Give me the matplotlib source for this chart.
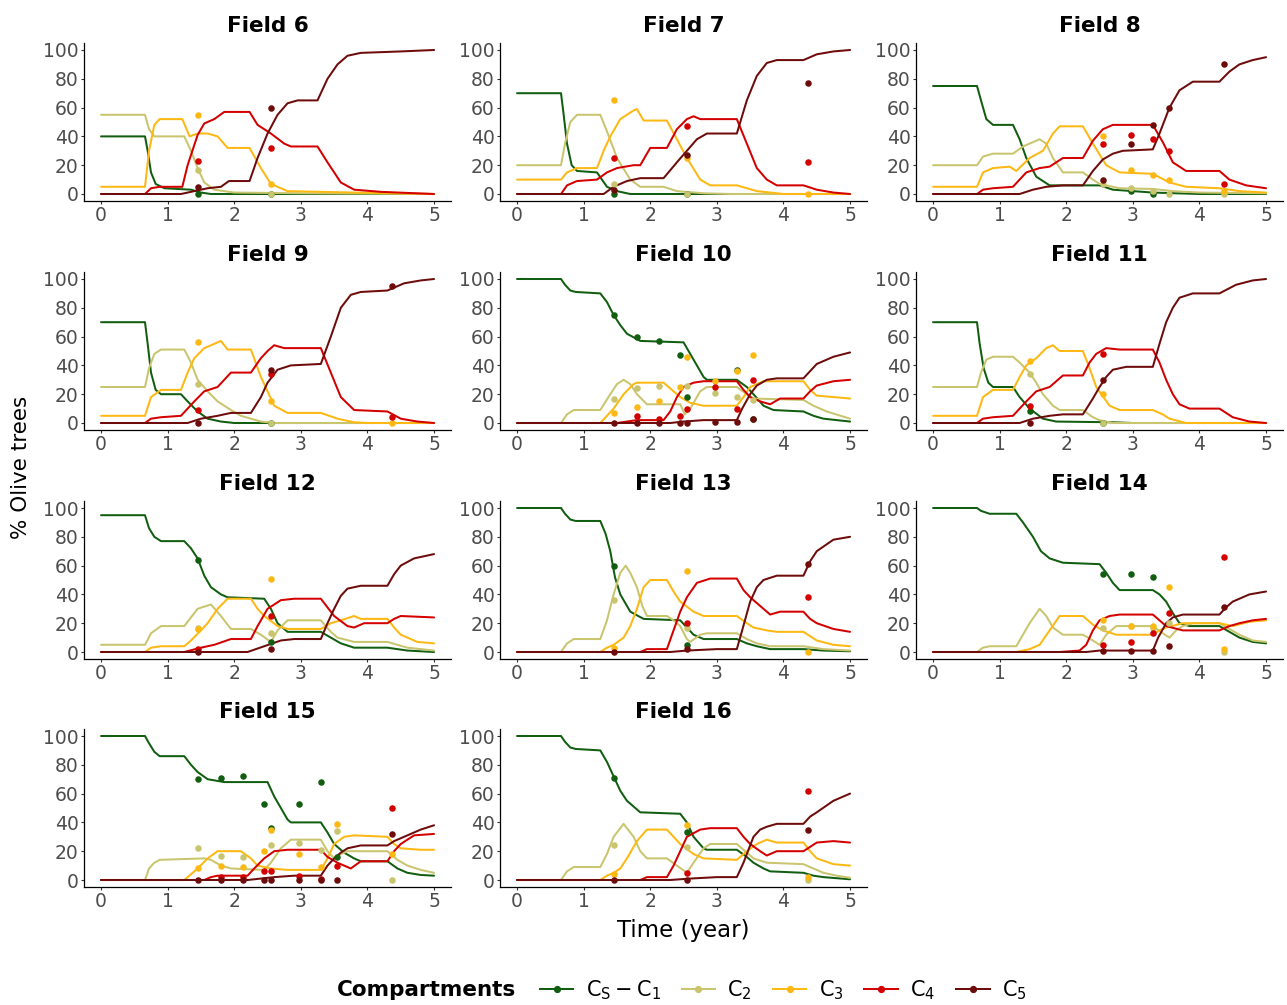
import matplotlib
matplotlib.use("Agg")
import matplotlib.pyplot as plt
from matplotlib.lines import Line2D

plt.rcParams['font.family'] = ['DejaVu Sans']

# ---------------- data ----------------
COMPARTMENTS = ['C1', 'C2', 'C3', 'C4', 'C5']
LEGEND_LABELS = [r'$\mathregular{C_S - C_1}$', r'$\mathregular{C_2}$', r'$\mathregular{C_3}$',
                 r'$\mathregular{C_4}$', r'$\mathregular{C_5}$']
COLORS = ['#115E11', '#C9C56E', '#FDB813', '#D40000', '#6E0B0B']
FIELDS = [6, 7, 8, 9, 10, 11, 12, 13, 14, 15, 16]

# model curves: (time, % trees) knots
f6_c1 = [(0,40),(0.66,40),(0.7,30),(0.75,15),(0.82,7),(0.95,4),(1.35,3),(1.5,1),(1.65,0),(5,0)]
f6_c2 = [(0,55),(0.66,55),(0.72,45),(0.8,40),(1.25,40),(1.35,30),(1.45,18),(1.55,8),(1.7,3),(2.0,1),(3.0,0.5),(5,0)]
f6_c3 = [(0,5),(0.66,5),(0.72,30),(0.8,48),(0.88,52),(1.22,52),(1.33,40),(1.45,42),(1.6,42),(1.75,40),(1.9,32),(2.23,32),(2.4,18),(2.55,7),(2.8,2),(3.8,1),(5,0)]
f6_c4 = [(0,0),(0.66,0),(0.75,4),(0.88,5),(1.22,5),(1.3,20),(1.45,41),(1.55,49),(1.7,52),(1.85,57),(2.23,57),(2.35,48),(2.55,42),(2.75,35),(2.85,33),(3.25,33),(3.4,22),(3.6,8),(3.8,3),(4.2,1.5),(5,0)]
f6_c5 = [(0,0),(1.2,0),(1.4,2),(1.6,4),(1.8,5),(1.92,9),(2.23,9),(2.35,25),(2.5,42),(2.65,55),(2.8,63),(2.95,65),(3.25,65),(3.4,80),(3.55,90),(3.7,96),(3.9,98),(4.5,99),(5,100)]
f6_t = [1.45, 2.55]
f6_p = [[0, 0], [17, 0], [55, 7], [23, 32], [5, 60]]

f7_c1 = [(0,70),(0.66,70),(0.7,55),(0.75,35),(0.82,20),(0.9,16),(1.2,15),(1.35,5),(1.5,2),(1.7,0),(5,0)]
f7_c2 = [(0,20),(0.66,20),(0.72,35),(0.8,50),(0.9,55),(1.25,55),(1.38,40),(1.5,25),(1.7,10),(1.85,5),(2.2,5),(2.4,2),(2.8,0.5),(3.2,0),(5,0)]
f7_c3 = [(0,10),(0.66,10),(0.75,15),(0.9,18),(1.2,18),(1.3,30),(1.4,40),(1.55,52),(1.75,58),(1.8,59),(1.9,51),(2.25,51),(2.4,38),(2.55,25),(2.75,10),(2.9,6),(3.3,6),(3.6,2),(4.0,0),(5,0)]
f7_c4 = [(0,0),(0.66,0),(0.75,6),(0.9,9),(1.2,10),(1.35,15),(1.5,18),(1.75,20),(1.85,20),(2.0,32),(2.25,32),(2.4,45),(2.55,52),(2.65,54),(2.75,52),(3.3,52),(3.45,35),(3.6,18),(3.75,10),(3.9,6),(4.3,6),(4.5,3),(4.75,1),(5,0)]
f7_c5 = [(0,0),(1.3,0),(1.45,5),(1.65,9),(1.85,11),(2.2,11),(2.4,22),(2.55,30),(2.7,38),(2.85,42),(3.3,42),(3.45,65),(3.6,82),(3.75,91),(3.9,93),(4.3,93),(4.5,97),(4.75,99),(5,100)]
f7_t = [1.45, 2.55, 4.37]
f7_p = [[0, 0, None], [7, 0, None], [65, 25, 0], [25, 47, 22], [3, 27, 77]]

f8_c1 = [(0,75),(0.66,75),(0.72,65),(0.8,52),(0.9,48),(1.2,48),(1.3,38),(1.4,25),(1.55,12),(1.75,6),(2.5,6),(2.7,3),(3.0,2),(3.3,1),(4.0,0),(5,0)]
f8_c2 = [(0,20),(0.66,20),(0.75,26),(0.9,28),(1.2,28),(1.35,33),(1.5,36),(1.6,38),(1.7,35),(1.8,25),(1.95,15),(2.25,15),(2.4,10),(2.5,7),(2.8,4),(3.3,3.5),(3.6,2),(4.0,1),(5,0.5)]
f8_c3 = [(0,5),(0.66,5),(0.75,15),(0.9,18),(1.15,19),(1.25,16),(1.45,25),(1.65,30),(1.8,42),(1.9,47),(2.25,47),(2.4,35),(2.6,20),(2.8,15),(3.3,14),(3.55,8),(3.8,5),(4.3,4),(4.6,2),(5,1)]
f8_c4 = [(0,0),(0.66,0),(0.75,3),(0.9,4),(1.2,5),(1.4,15),(1.6,18),(1.75,19),(1.95,25),(2.25,25),(2.4,37),(2.55,45),(2.7,48),(3.3,48),(3.45,36),(3.6,22),(3.8,16),(4.3,16),(4.45,10),(4.7,6),(5,4)]
f8_c5 = [(0,0),(1.3,0),(1.5,3),(1.7,5),(1.95,6),(2.25,6),(2.4,16),(2.55,24),(2.7,28),(2.85,30),(3.3,31),(3.4,42),(3.55,60),(3.7,72),(3.9,78),(4.3,78),(4.45,85),(4.6,90),(4.8,93),(5,95)]
f8_t = [2.55, 2.97, 3.31, 3.55, 4.37]
f8_p = [[None, 2, 0, None, None], [7, 4, 2, 0, 0], [40, 17, 13, 10, 2], [35, 41, 38, 30, 7], [10, 35, 48, 60, 90]]

f9_c1 = [(0,70),(0.66,70),(0.7,55),(0.75,35),(0.82,23),(0.9,20),(1.2,20),(1.3,15),(1.45,8),(1.6,3),(1.8,1),(2.0,0),(5,0)]
f9_c2 = [(0,25),(0.66,25),(0.72,38),(0.8,48),(0.9,51),(1.25,51),(1.35,42),(1.45,30),(1.6,22),(1.75,15),(1.95,9),(2.1,5),(2.4,1),(2.6,0),(5,0)]
f9_c3 = [(0,5),(0.66,5),(0.75,18),(0.9,23),(1.2,23),(1.3,35),(1.4,45),(1.55,52),(1.75,56),(1.8,57),(1.9,51),(2.25,51),(2.4,32),(2.6,12),(2.8,7),(3.3,7),(3.55,3),(3.8,0.5),(4.0,0),(5,0)]
f9_c4 = [(0,0),(0.66,0),(0.75,3),(0.9,4),(1.2,5),(1.3,10),(1.4,15),(1.55,22),(1.75,25),(1.95,35),(2.25,35),(2.4,45),(2.5,50),(2.6,54),(2.75,52),(3.3,52),(3.45,35),(3.6,18),(3.8,9),(4.3,8),(4.5,3),(4.75,1),(5,0)]
f9_c5 = [(0,0),(1.3,0),(1.5,3),(1.75,5),(1.95,7),(2.25,7),(2.4,18),(2.5,28),(2.65,37),(2.85,40),(3.3,41),(3.45,60),(3.6,80),(3.75,89),(3.9,91),(4.3,92),(4.55,97),(4.8,99),(5,100)]
f9_t = [1.45, 2.55, 4.37]
f9_p = [[None, 0, None], [27, 0, None], [56, 15, 0], [9, 34, 4], [0, 37, 95]]

f10_c1 = [(0,100),(0.66,100),(0.72,96),(0.8,92),(0.88,91),(1.25,90),(1.35,84),(1.45,75),(1.55,68),(1.65,62),(1.85,57),(2.5,56),(2.6,48),(2.7,40),(2.8,32),(2.85,30),(3.3,30),(3.45,25),(3.55,20),(3.7,12),(3.85,9),(4.3,8),(4.45,5),(4.6,3),(5,1)]
f10_c2 = [(0,0),(0.66,0),(0.75,6),(0.85,9),(1.25,9),(1.4,20),(1.5,27),(1.6,30),(1.7,27),(1.8,20),(1.95,13),(2.45,13),(2.52,6),(2.6,10),(2.75,22),(2.85,25),(3.3,25),(3.45,20),(3.55,17),(4.3,16),(4.45,12),(4.65,8),(5,3)]
f10_c3 = [(0,0),(1.25,0),(1.35,5),(1.45,10),(1.6,20),(1.75,27),(1.8,28),(2.2,28),(2.35,22),(2.45,18),(2.6,14),(2.8,12),(3.3,12),(3.4,18),(3.5,25),(3.7,29),(4.3,29),(4.4,23),(4.5,19),(4.75,18),(5,17)]
f10_c4 = [(0,0),(1.5,0),(1.65,1),(1.8,2),(2.2,2),(2.3,8),(2.4,18),(2.5,25),(2.65,28),(2.8,29),(3.3,29),(3.4,23),(3.5,18),(3.65,15),(3.8,13),(3.95,17),(4.3,17),(4.4,22),(4.5,26),(4.75,29),(5,30)]
f10_c5 = [(0,0),(2.3,0),(2.5,1),(2.8,2),(3.3,2),(3.38,10),(3.5,20),(3.6,26),(3.75,30),(3.9,31),(4.3,31),(4.4,36),(4.5,41),(4.75,46),(5,49)]
f10_t = [1.45, 1.8, 2.13, 2.45, 2.55, 2.97, 3.31, 3.55]
f10_p = [[75, 60, 57, 47, 18, None, 37, 3],
         [17, 24, 26, None, 26, 21, 18, 16],
         [7, 11, 15, 25, 46, 29, 36, 47],
         [None, 5, 3, 5, 10, 25, 10, 30],
         [0, 0, 0, 0, 0, 1, 1, 3]]

f11_c1 = [(0,70),(0.66,70),(0.7,55),(0.76,38),(0.83,28),(0.9,25),(1.2,25),(1.3,18),(1.45,10),(1.65,3),(1.85,1),(2.7,0.5),(3.0,0),(5,0)]
f11_c2 = [(0,25),(0.66,25),(0.72,35),(0.8,44),(0.9,46),(1.2,46),(1.3,42),(1.45,35),(1.55,28),(1.65,20),(1.8,12),(1.9,9),(2.25,9),(2.4,4),(2.5,2),(2.7,0),(5,0)]
f11_c3 = [(0,5),(0.66,5),(0.75,18),(0.9,23),(1.2,23),(1.3,32),(1.4,40),(1.55,45),(1.7,52),(1.8,54),(1.9,50),(2.25,50),(2.35,38),(2.45,25),(2.65,12),(2.8,9),(3.3,9),(3.45,6),(3.55,3),(3.8,0),(5,0)]
f11_c4 = [(0,0),(0.66,0),(0.75,3),(0.9,4),(1.2,5),(1.3,10),(1.4,15),(1.55,22),(1.75,25),(1.95,33),(2.25,33),(2.35,42),(2.45,48),(2.6,52),(2.8,51),(3.3,51),(3.4,42),(3.5,30),(3.6,20),(3.7,13),(3.85,10),(4.3,10),(4.5,4),(4.75,1),(5,0)]
f11_c5 = [(0,0),(1.3,0),(1.5,3),(1.75,5),(1.95,6),(2.25,6),(2.4,17),(2.5,25),(2.6,32),(2.7,37),(2.9,39),(3.3,39),(3.4,55),(3.5,70),(3.6,80),(3.7,87),(3.9,90),(4.3,90),(4.55,96),(4.8,99),(5,100)]
f11_t = [1.45, 2.55]
f11_p = [[8, 0], [34, 0], [43, 20], [12, 48], [0, 30]]

f12_c1 = [(0,95),(0.66,95),(0.72,86),(0.8,80),(0.9,77),(1.25,77),(1.35,72),(1.45,65),(1.55,53),(1.65,45),(1.8,40),(1.9,38),(2.45,37),(2.55,30),(2.65,20),(2.8,14),(3.3,14),(3.45,10),(3.6,6),(3.8,3),(4.3,3),(4.6,1),(5,0)]
f12_c2 = [(0,5),(0.66,5),(0.75,13),(0.9,18),(1.25,18),(1.35,24),(1.45,30),(1.65,33),(1.8,25),(1.95,16),(2.25,16),(2.4,12),(2.55,7),(2.65,15),(2.8,22),(3.3,22),(3.45,14),(3.55,10),(3.8,7),(4.3,7),(4.6,3),(5,1)]
f12_c3 = [(0,0),(0.66,0),(0.75,3),(0.9,4),(1.25,4),(1.35,8),(1.5,15),(1.6,20),(1.75,30),(1.9,37),(2.25,37),(2.35,30),(2.45,25),(2.65,18),(2.8,16),(3.3,16),(3.45,20),(3.6,22),(3.8,25),(3.9,23),(4.3,23),(4.4,17),(4.5,12),(4.75,7),(5,6)]
f12_c4 = [(0,0),(1.25,0),(1.5,3),(1.7,5),(1.95,9),(2.25,9),(2.35,18),(2.5,30),(2.7,36),(2.9,37),(3.3,37),(3.4,31),(3.5,25),(3.7,18),(3.8,17),(3.95,20),(4.3,20),(4.4,23),(4.5,25),(5,24)]
f12_c5 = [(0,0),(2.2,0),(2.45,4),(2.7,8),(2.9,9),(3.3,9),(3.4,20),(3.5,30),(3.6,39),(3.7,44),(3.9,46),(4.3,46),(4.4,54),(4.5,60),(4.7,65),(5,68)]
f12_t = [1.45, 2.55]
f12_p = [[64, 7], [17, 13], [16, 51], [2, 25], [0, 2]]

f13_c1 = [(0,100),(0.66,100),(0.72,96),(0.8,92),(0.88,91),(1.25,91),(1.33,82),(1.4,70),(1.47,52),(1.55,40),(1.7,28),(1.9,23),(2.45,22),(2.55,17),(2.65,12),(2.8,9),(3.3,9),(3.45,6),(3.6,4),(3.8,2),(4.3,2),(4.6,1),(5,0.5)]
f13_c2 = [(0,0),(0.66,0),(0.75,6),(0.85,9),(1.25,9),(1.35,22),(1.45,40),(1.55,55),(1.63,60),(1.7,55),(1.8,45),(1.88,32),(1.95,25),(2.25,25),(2.35,22),(2.45,18),(2.55,9),(2.6,7),(2.75,12),(2.85,13),(3.3,13),(3.45,9),(3.6,6),(3.8,4),(4.3,4),(4.6,2),(5,1)]
f13_c3 = [(0,0),(1.25,0),(1.35,3),(1.45,5),(1.6,10),(1.7,18),(1.8,30),(1.9,45),(2.0,50),(2.25,50),(2.35,42),(2.45,35),(2.65,28),(2.8,25),(3.3,25),(3.45,20),(3.55,17),(3.75,15),(3.9,14),(4.3,14),(4.4,11),(4.5,8),(4.75,5),(5,4)]
f13_c4 = [(0,0),(1.85,0),(1.95,2),(2.25,2),(2.35,15),(2.45,28),(2.55,38),(2.7,48),(2.9,51),(3.3,51),(3.4,43),(3.5,38),(3.7,30),(3.8,26),(3.95,28),(4.3,28),(4.4,23),(4.5,20),(4.75,16),(5,14)]
f13_c5 = [(0,0),(2.3,0),(2.55,1),(3.0,2),(3.3,2),(3.38,15),(3.5,35),(3.6,45),(3.7,50),(3.9,53),(4.3,53),(4.4,63),(4.5,70),(4.75,78),(5,80)]
f13_t = [1.45, 2.55, 4.37]
f13_p = [[60, 5, None], [36, 17, None], [3, 56, 0], [None, 20, 38], [0, 2, 61]]

f14_c1 = [(0,100),(0.66,100),(0.72,98),(0.85,96),(1.25,96),(1.35,90),(1.5,80),(1.62,70),(1.75,65),(1.95,62),(2.5,61),(2.6,55),(2.7,48),(2.8,43),(3.3,43),(3.4,40),(3.5,35),(3.6,27),(3.7,20),(3.85,18),(4.3,18),(4.45,14),(4.6,10),(4.8,7),(5,6)]
f14_c2 = [(0,0),(0.66,0),(0.75,3),(0.85,4),(1.25,4),(1.35,12),(1.45,20),(1.6,30),(1.7,25),(1.8,17),(1.95,12),(2.25,12),(2.4,8),(2.5,5),(2.6,12),(2.75,18),(3.3,18),(3.45,13),(3.55,10),(3.65,15),(3.75,18),(3.9,20),(4.3,20),(4.45,16),(4.6,12),(4.8,8),(5,7)]
f14_c3 = [(0,0),(1.25,0),(1.45,2),(1.6,5),(1.75,15),(1.9,25),(2.25,25),(2.4,19),(2.55,15),(2.75,12),(3.3,12),(3.4,15),(3.5,17),(3.75,20),(4.3,20),(4.4,19),(4.5,18),(4.75,21),(5,22)]
f14_c4 = [(0,0),(1.9,0),(2.2,1),(2.3,5),(2.4,15),(2.5,22),(2.65,25),(2.8,26),(3.3,26),(3.4,22),(3.5,18),(3.75,15),(4.3,15),(4.45,18),(4.6,20),(4.8,22),(5,23)]
f14_c5 = [(0,0),(2.3,0),(2.5,1),(3.3,1),(3.38,10),(3.5,20),(3.6,24),(3.75,26),(4.3,26),(4.4,31),(4.5,35),(4.75,40),(5,42)]
f14_t = [2.55, 2.97, 3.31, 3.55, 4.37]
f14_p = [[54, 54, 52, None, None], [17, 18, 17, 20, 0], [22, 18, 18, 45, 2], [5, 7, 13, 27, 66], [1, 1, 1, 4, 31]]

f15_c1 = [(0,100),(0.66,100),(0.72,95),(0.8,89),(0.88,86),(1.25,86),(1.35,80),(1.45,75),(1.6,70),(1.85,68),(2.5,68),(2.6,58),(2.7,50),(2.8,42),(2.85,40),(3.3,40),(3.4,33),(3.5,25),(3.65,19),(3.8,15),(3.9,13),(4.3,13),(4.45,8),(4.6,5),(4.8,3.5),(5,3)]
f15_c2 = [(0,0),(0.66,0),(0.72,8),(0.8,12),(0.88,14),(1.55,15),(1.65,14),(1.8,10),(1.95,8),(2.45,7),(2.55,12),(2.7,22),(2.85,28),(3.3,28),(3.4,20),(3.5,15),(3.6,18),(3.7,20),(4.3,20),(4.45,14),(4.6,10),(4.8,7),(5,5)]
f15_c3 = [(0,0),(1.25,0),(1.35,4),(1.45,8),(1.6,15),(1.75,20),(2.1,20),(2.25,15),(2.35,10),(2.55,8),(2.8,7),(3.3,7),(3.4,15),(3.5,25),(3.65,30),(3.8,31),(4.3,30),(4.4,25),(4.5,22),(4.8,21),(5,21)]
f15_c4 = [(0,0),(1.55,0),(1.65,2),(1.75,3),(2.2,3),(2.3,8),(2.45,15),(2.6,20),(2.8,21),(3.3,21),(3.4,16),(3.55,12),(3.75,8),(3.9,13),(4.3,13),(4.4,20),(4.5,25),(4.7,31),(5,32)]
f15_c5 = [(0,0),(2.2,0),(2.6,2),(2.9,3),(3.3,3),(3.4,10),(3.5,15),(3.6,19),(3.7,22),(3.9,24),(4.3,24),(4.4,27),(4.55,30),(4.8,35),(5,38)]
f15_t = [1.45, 1.8, 2.13, 2.45, 2.55, 2.97, 3.31, 3.55, 4.37]
f15_p = [[70, 71, 72, 53, 36, 53, 68, 16, None],
         [22, 17, 16, None, 24, 26, 21, 34, 0],
         [8, 10, 9, 20, 35, 18, 9, 39, 18],
         [None, 2, 2, 6, 6, 3, 1, 10, 50],
         [0, 0, 0, 0, 0, 0, 0, 0, 32]]

f16_c1 = [(0,100),(0.66,100),(0.72,96),(0.8,92),(0.88,91),(1.25,90),(1.35,82),(1.45,72),(1.55,62),(1.65,55),(1.85,47),(2.45,46),(2.55,40),(2.65,30),(2.8,22),(2.85,21),(3.3,21),(3.45,16),(3.55,12),(3.7,8),(3.8,6),(4.3,5),(4.45,3),(4.6,2),(5,0.5)]
f16_c2 = [(0,0),(0.66,0),(0.75,6),(0.85,9),(1.25,9),(1.35,18),(1.45,30),(1.6,39),(1.75,30),(1.85,20),(1.95,15),(2.25,15),(2.4,10),(2.55,5),(2.65,12),(2.8,22),(2.9,25),(3.3,25),(3.45,19),(3.55,15),(3.75,12),(4.3,11),(4.45,8),(4.6,5),(4.8,3),(5,1.5)]
f16_c3 = [(0,0),(1.25,0),(1.35,3),(1.45,5),(1.55,8),(1.65,15),(1.8,27),(1.95,35),(2.25,35),(2.35,30),(2.45,25),(2.65,18),(2.8,15),(3.3,14),(3.45,20),(3.6,25),(3.75,28),(3.9,26),(4.3,26),(4.4,20),(4.5,15),(4.75,11),(5,10)]
f16_c4 = [(0,0),(1.85,0),(1.95,2),(2.25,2),(2.35,10),(2.45,20),(2.55,30),(2.75,35),(2.9,36),(3.3,36),(3.4,30),(3.5,25),(3.65,20),(3.75,17),(3.9,20),(4.3,20),(4.4,23),(4.5,26),(4.75,27),(5,26)]
f16_c5 = [(0,0),(2.3,0),(2.6,1),(3.0,2),(3.3,2),(3.4,12),(3.55,30),(3.65,35),(3.75,37),(3.9,39),(4.3,39),(4.4,44),(4.5,47),(4.75,55),(5,60)]
f16_t = [1.45, 2.55, 4.37]
f16_p = [[71, 33, None], [24, 23, 0], [4, 38, 2], [None, 5, 62], [0, 0, 35]]

curves = {
    6: [f6_c1, f6_c2, f6_c3, f6_c4, f6_c5],
    7: [f7_c1, f7_c2, f7_c3, f7_c4, f7_c5],
    8: [f8_c1, f8_c2, f8_c3, f8_c4, f8_c5],
    9: [f9_c1, f9_c2, f9_c3, f9_c4, f9_c5],
    10: [f10_c1, f10_c2, f10_c3, f10_c4, f10_c5],
    11: [f11_c1, f11_c2, f11_c3, f11_c4, f11_c5],
    12: [f12_c1, f12_c2, f12_c3, f12_c4, f12_c5],
    13: [f13_c1, f13_c2, f13_c3, f13_c4, f13_c5],
    14: [f14_c1, f14_c2, f14_c3, f14_c4, f14_c5],
    15: [f15_c1, f15_c2, f15_c3, f15_c4, f15_c5],
    16: [f16_c1, f16_c2, f16_c3, f16_c4, f16_c5],
}
obs = {6: (f6_t, f6_p), 7: (f7_t, f7_p), 8: (f8_t, f8_p), 9: (f9_t, f9_p),
       10: (f10_t, f10_p), 11: (f11_t, f11_p), 12: (f12_t, f12_p), 13: (f13_t, f13_p),
       14: (f14_t, f14_p), 15: (f15_t, f15_p), 16: (f16_t, f16_p)}

X_TICKS = [0, 1, 2, 3, 4, 5]
Y_TICKS = [0, 20, 40, 60, 80, 100]

# ---------------- layout ----------------
W, H = 1287, 1005
fig = plt.figure(figsize=(W / 100, H / 100), dpi=100)
col_left = [84.4, 500.4, 916.4]
row_top = [42.8, 271.8, 500.8, 728.8]
ax_w, ax_h = 366.3, 158.4

for i, fld in enumerate(FIELDS):
    r, c = divmod(i, 3)
    ax = fig.add_axes([col_left[c] / W, 1 - (row_top[r] + ax_h) / H, ax_w / W, ax_h / H])
    for k in range(5):
        pts = curves[fld][k]
        ax.plot([p[0] for p in pts], [p[1] for p in pts], color=COLORS[k], lw=1.45,
                solid_joinstyle='round', solid_capstyle='round', zorder=2 + k * 0.01)
    ts, pv = obs[fld]
    for k in range(5):
        xs = [t for t, v in zip(ts, pv[k]) if v is not None]
        ys = [v for v in pv[k] if v is not None]
        ax.scatter(xs, ys, s=22, color=COLORS[k], zorder=3, linewidths=0)
    ax.set_xlim(-0.25, 5.25)
    ax.set_ylim(-5, 105)
    ax.set_xticks(X_TICKS)
    ax.set_yticks(Y_TICKS)
    ax.spines['top'].set_visible(False)
    ax.spines['right'].set_visible(False)
    for s in ('left', 'bottom'):
        ax.spines[s].set_linewidth(0.9)
    ax.tick_params(axis='both', length=2.5, width=0.8, pad=1.5, labelsize=13.5,
                   labelcolor='#4D4D4D', color='#333333')
    ax.tick_params(axis='x', pad=1.0)
    ax.set_title(f'Field {fld}', fontsize=15.5, fontweight='bold', pad=8)

fig.text(21 / W, 1 - 467 / H, '% Olive trees', rotation=90, ha='center', va='center', fontsize=15.5)
fig.text(683 / W, 1 - 930 / H, 'Time (year)', ha='center', va='center', fontsize=16.5)

fig.text(337 / W, 1 - 990 / H, 'Compartments', ha='left', va='center', fontsize=15.5, fontweight='bold')
handles = [Line2D([0], [0], color=COLORS[k], lw=1.45, marker='o', markersize=4.2) for k in range(5)]
fig.legend(handles, LEGEND_LABELS, loc='center left', bbox_to_anchor=(540 / W, 1 - 990 / H),
           ncol=5, frameon=False, fontsize=15, handlelength=1.6, handletextpad=0.6,
           columnspacing=1.0, borderaxespad=0, borderpad=0)

fig.savefig('out.png', dpi=100, facecolor='white')
